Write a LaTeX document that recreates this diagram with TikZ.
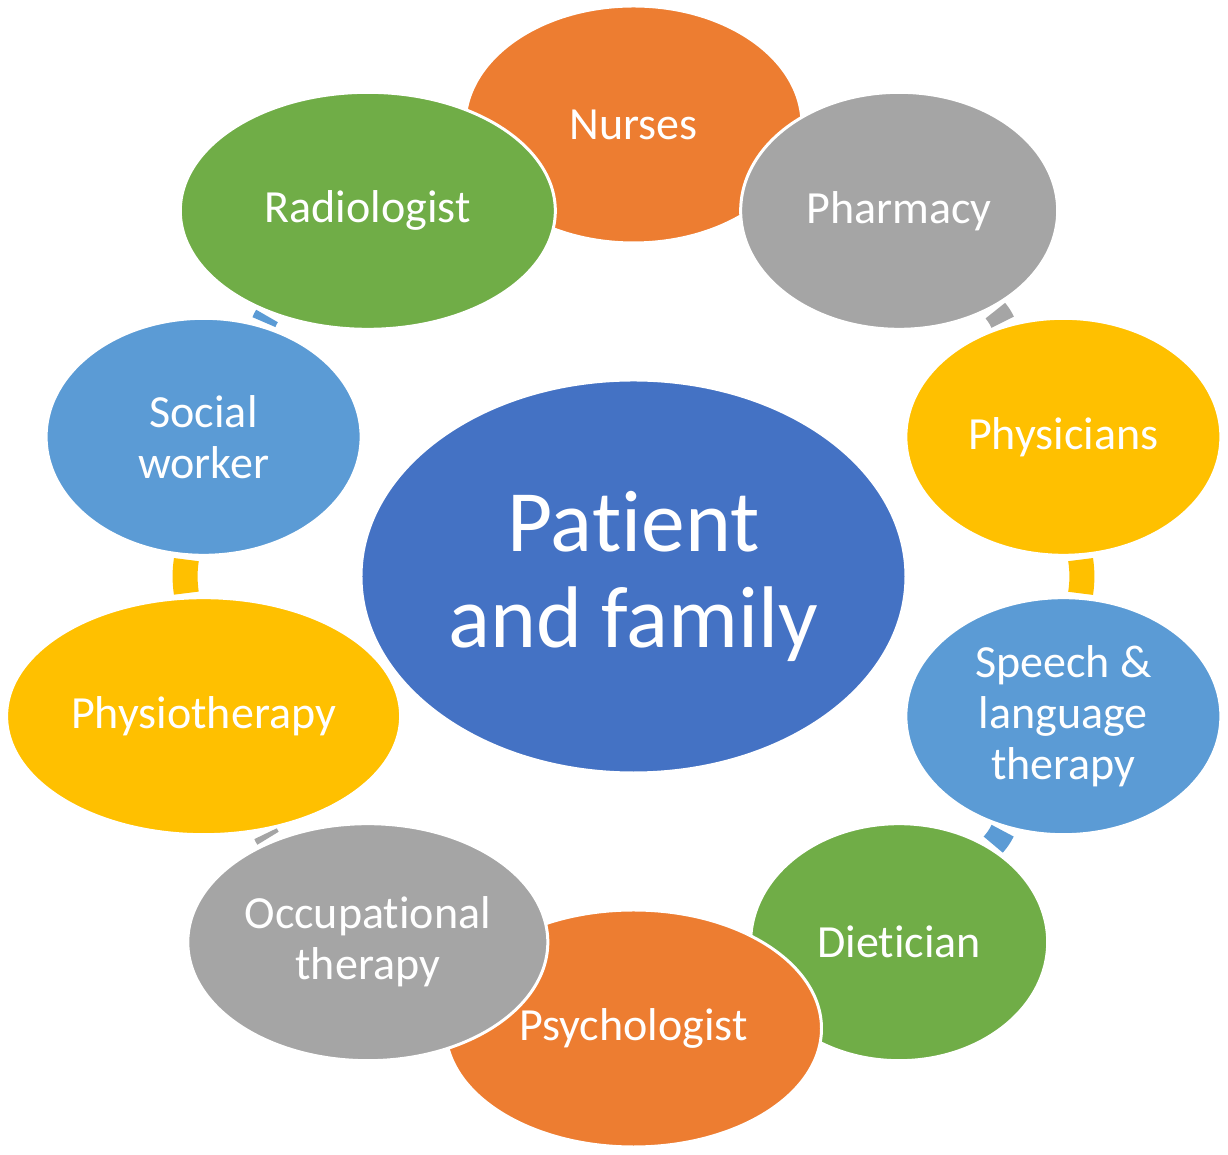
\documentclass[tikz,border=0pt]{standalone}
\usepackage{fontspec}
\setmainfont{Carlito}[Ligatures={NoCommon,NoContextual,NoRare}]
\usetikzlibrary{shapes.geometric,backgrounds}

\definecolor{coreblue}{HTML}{4472C4}
\definecolor{teamorange}{HTML}{ED7D31}
\definecolor{teamgray}{HTML}{A5A5A5}
\definecolor{teamyellow}{HTML}{FFC000}
\definecolor{teamblue}{HTML}{5B9BD5}
\definecolor{teamgreen}{HTML}{70AD47}

\begin{document}
\begin{tikzpicture}[
  member/.style={ellipse, draw=white, line width=1.7pt, inner sep=0pt, minimum height=4.74cm, align=center, text=white, font=\fontsize{26.2}{29}\selectfont},
  core/.style={ellipse, draw=white, line width=1.7pt, inner sep=0pt, minimum width=10.9cm, minimum height=7.86cm, align=center, text=white, font=\fontsize{49.8}{54.6}\selectfont},
  link/.style={line width=0.5cm, bend left=8, shorten <=2pt, shorten >=2pt},
]
\useasboundingbox (-12.67,-11.57) rectangle (11.89,11.53);

% === Care team around the patient (clockwise from top) ===
\node[member, fill=teamorange, minimum width=6.74cm] (nurses) at (90:9.04) {Nurses};
\node[member, fill=teamgray, minimum width=6.34cm] (pharmacy) at (54:9.04) {Pharmacy};
\node[member, fill=teamyellow, minimum width=6.3cm] (physicians) at (18:9.04) {Physicians};
\node[member, fill=teamblue, minimum width=6.3cm] (speech) at (-18:9.04) {Speech \&\\language\\therapy};
\node[member, fill=teamgreen, minimum width=5.94cm] (dietician) at (-54:9.04) {Dietician};
\node[member, fill=teamorange, minimum width=7.52cm] (psychologist) at (-90:9.04) {Psychologist};
\node[member, fill=teamgray, minimum width=7.2cm] (occupational) at (-126:9.04) {Occupational\\therapy};
\node[member, fill=teamyellow, minimum width=7.88cm] (physio) at (-162:9.04) {Physiotherapy};
\node[member, fill=teamblue, minimum width=6.3cm] (social) at (162:9.04) {Social\\worker};
\node[member, fill=teamgreen, minimum width=7.5cm] (radiologist) at (126:9.04) {Radiologist};

% === Centre ===
\node[core, fill=coreblue] (patient) at (0,0) {Patient\\and family};

% === Visible links of the cycle ===
\begin{scope}[on background layer]
  \draw[link, draw=teamgray] (pharmacy) to (physicians);
  \draw[link, draw=teamyellow] (physicians) to (speech);
  \draw[link, draw=teamblue] (speech) to (dietician);
  \draw[link, draw=teamgray] (occupational) to (physio);
  \draw[link, draw=teamyellow] (physio) to (social);
  \draw[link, draw=teamblue] (social) to (radiologist);
\end{scope}

\end{tikzpicture}
\end{document}
